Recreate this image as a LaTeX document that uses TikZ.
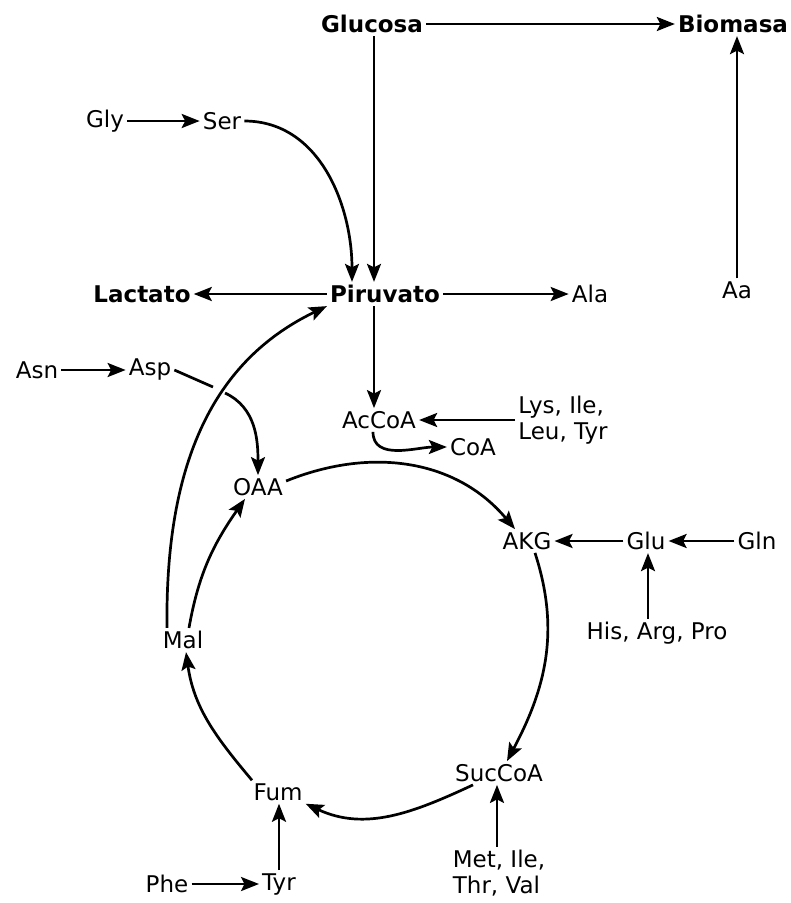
\documentclass[tikz,border=0pt]{standalone}
\usepackage{fontspec}
\setmainfont{DejaVu Sans}
\usetikzlibrary{arrows.meta}
\tikzset{
  met/.style={inner sep=3pt, font=\fontsize{23}{26}\selectfont},
  mainm/.style={met, font=\fontsize{23}{26}\selectfont\bfseries},
  grp/.style={met, align=left},
  ln/.style={line width=2.7pt},
  ar/.style={-{Stealth[length=18pt, width=14pt, inset=3.5pt]}, line width=2.7pt},
}

\begin{document}
\begin{tikzpicture}[x=1pt, y=-1pt]
    \useasboundingbox (0,0) rectangle (791,903);

    % top row
    \node[mainm] (gluc) at (372,24)  {Glucosa};
    \node[mainm] (bio)  at (733,24)  {Biomasa};
    \node[met]   (aa)   at (737,290) {Aa};
    \node[met]   (gly)  at (105,121) {Gly};
    \node[met]   (ser)  at (222,121) {Ser};
    \draw[ar] (gluc) -- (bio);
    \draw[ar] (aa) -- (aa |- bio.south);
    \draw[ar] (gly) -- (ser);

    % pyruvate row
    \node[mainm] (lac)  at (142,294) {Lactato};
    \node[mainm] (piru) at (385,294) {Piruvato};
    \node[met]   (ala)  at (590,294) {Ala};
    \draw[ar] ([xshift=2pt]gluc.south) -- ([xshift=-11pt]piru.north);
    \draw[ar] (ser.east) to[out=0, in=90] ([xshift=-33pt]piru.north);
    \draw[ar] (piru) -- (lac);
    \draw[ar] (piru) -- (ala);

    % acetyl-CoA and aspartate
    \node[met] (asn) at (37,370)  {Asn};
    \node[met] (asp) at (150,370) {Asp};
    \node[met] (acc) at (379,420) {AcCoA};
    \node[grp] (lys) at (563,420) {Lys, Ile,\\Leu, Tyr};
    \node[met] (coa) at (473,447) {CoA};
    \draw[ar] (asn) -- (asp);
    \draw[ar] ([xshift=-11pt]piru.south) -- ([xshift=-5pt]acc.north);
    \draw[ar] (lys) -- (acc);
    \draw[ar] ([xshift=-6pt]acc.south) to[out=-90, in=180] (coa.west);

    % cycle
    \node[met] (oaa)  at (258,487) {OAA};
    \node[met] (akg)  at (527,541) {AKG};
    \node[met] (mal)  at (183,640) {Mal};
    \node[met] (succ) at (499,773) {SucCoA};
    \node[met] (fum)  at (278,792) {Fum};
    \coordinate (gapa) at (213,387);
    \coordinate (gapb) at (225,393);
    \draw[ln] (asp.east) -- (gapa);
    \draw[ar] (gapb) to[out=-25, in=90] (oaa.north);
    \draw[ar] ([xshift=-16pt]mal.north) .. controls (165,460) and (215,360) .. (piru.south west);
    \draw[ar] ([yshift=6pt]oaa.east) to[out=22, in=130] ([xshift=-12pt]akg.north);
    \draw[ar] ([xshift=8pt]akg.south) to[out=-72, in=62] ([xshift=8pt]succ.north);
    \draw[ar] ([xshift=-26pt]succ.south) to[out=205, in=-25] (fum.south east);
    \draw[ar] ([xshift=-26pt]fum.north) to[out=130, in=-82] ([xshift=3pt]mal.south);
    \draw[ar] ([xshift=6pt]mal.north) to[out=80, in=235] ([xshift=-13pt]oaa.south);

    % feeding amino acids
    \node[met] (glut) at (646,541) {Glu};
    \node[met] (gln)  at (757,541) {Gln};
    \node[met] (his)  at (657,633) {His, Arg, Pro};
    \node[grp] (met)  at (499,873) {Met, Ile,\\Thr, Val};
    \node[met] (phe)  at (167,884) {Phe};
    \node[met] (tyr)  at (279,884) {Tyr};
    \draw[ar] (gln) -- (glut);
    \draw[ar] (glut) -- (akg);
    \draw[ar] ([xshift=-9pt]his.north) -- ([xshift=2pt]glut.south);
    \draw[ar] ([xshift=-2pt]met.north) -- ([xshift=-2pt]succ.south);
    \draw[ar] (phe) -- (tyr);
    \draw[ar] (tyr.north) -- (tyr.north |- fum.south);
  \end{tikzpicture}
\end{document}
